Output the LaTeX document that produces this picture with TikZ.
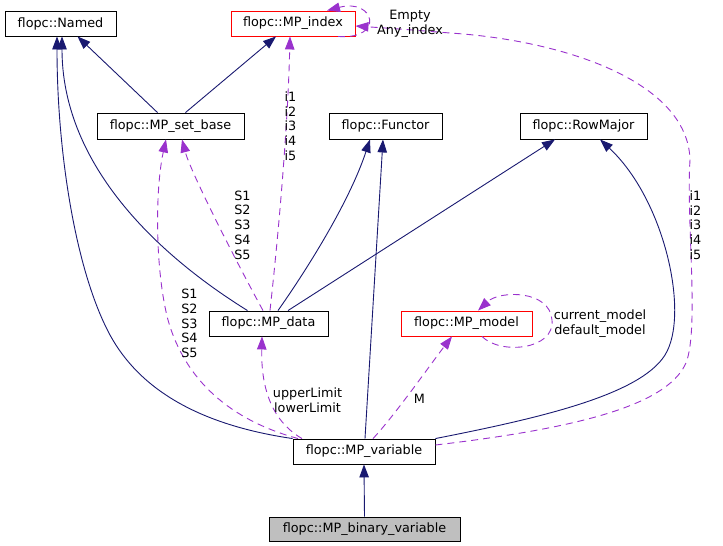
\documentclass[tikz,border=0pt]{standalone}
\usepackage{fontspec}
\setmainfont{DejaVu Sans}
\usetikzlibrary{arrows.meta}
\definecolor{navyc}{HTML}{191970}
\definecolor{purp}{HTML}{9A32CD}
\definecolor{boxgray}{HTML}{BFBFBF}
\begin{document}
\begin{tikzpicture}[x=1pt,y=-1pt,
  cls/.style={draw=black, line width=0.9pt, inner sep=0pt, fill=white,
    font=\fontsize{12.8}{14.7}\selectfont},
  redcls/.style={cls, draw=red},
  lbl/.style={inner sep=0pt, align=center, font=\fontsize{12.8}{14.7}\selectfont},
  inh/.style={draw=navyc, line width=0.9pt, -{Triangle[length=13pt,width=9.5pt]}},
  use/.style={draw=purp, line width=0.9pt, dash pattern=on 7pt off 5pt,
    -{Triangle[length=13pt,width=9.5pt]}}]
\useasboundingbox (0,0) rectangle (723,546);
% class boxes
\node[cls, minimum width=111pt, minimum height=25pt] (named) at (60.5,23.5) {flopc::Named};
\node[redcls, minimum width=124pt, minimum height=25pt] (idx) at (293,23.5) {flopc::MP\_index};
\node[cls, minimum width=147pt, minimum height=26pt] (sb) at (170.5,126) {flopc::MP\_set\_base};
\node[cls, minimum width=113pt, minimum height=26pt] (fun) at (385.5,126) {flopc::Functor};
\node[cls, minimum width=127pt, minimum height=26pt] (row) at (583.5,126) {flopc::RowMajor};
\node[cls, minimum width=119pt, minimum height=25pt] (data) at (268.5,323.5) {flopc::MP\_data};
\node[redcls, minimum width=131pt, minimum height=25pt] (model) at (466.5,323.5) {flopc::MP\_model};
\node[cls, minimum width=142pt, minimum height=25pt] (var) at (364,451.5) {flopc::MP\_variable};
\node[cls, fill=boxgray, minimum width=191pt, minimum height=24pt] (bin) at (364.5,529) {flopc::MP\_binary\_variable};
% inheritance
\draw[inh] ([xshift=-13pt]sb.north) -- ([xshift=17pt]named.south);
\draw[inh] ([xshift=15pt]sb.north) -- ([xshift=-17pt]idx.south);
\draw[inh] ([xshift=-21pt]data.north) .. controls (150,250) and (62,160) .. ([xshift=1.5pt]named.south);
\draw[inh] (var.north west) .. controls (200,425) and (140,390) .. (110,335)
  .. controls (75,270) and (57,150) .. ([xshift=-3.5pt]named.south);
\draw[inh] ([xshift=9.5pt]data.north) .. controls (310,265) and (350,200) .. ([xshift=-15.5pt]fun.south);
\draw[inh] ([xshift=19.5pt]data.north) -- ([xshift=-28.5pt]row.south);
\draw[inh] ([xshift=1pt]var.north) -- ([xshift=-2.5pt]fun.south);
\draw[inh] (var.north east) .. controls (540,418) and (640,395) .. (665,355)
  .. controls (690,315) and (665,200) .. ([xshift=16.5pt]row.south);
\draw[inh] (bin.north) -- (var.south);
% usage
\draw[use] ([xshift=-5.5pt]data.north) .. controls (230,250) and (190,170) .. ([xshift=11.5pt]sb.south);
\draw[use] ([xshift=-66pt]var.north) .. controls (230,420) and (185,380) .. (168,320)
  .. controls (155,270) and (155,190) .. ([xshift=-4.5pt]sb.south);
\draw[use] ([xshift=1.5pt]data.north) .. controls (280,220) and (288,120) .. ([xshift=-3pt]idx.south);
\draw[use] ([yshift=6.5pt]var.east) .. controls (580,428) and (665,405) .. (685,365)
  .. controls (700,335) and (686,220) .. (690,160)
  .. controls (688,80) and (560,40) .. (450,33)
  .. controls (400,29) .. ([yshift=-2.5pt]idx.east);
\draw[use] ([xshift=45pt]idx.south) .. controls (385,40) and (375,-2) .. ([xshift=34pt]idx.north);
\draw[use] ([xshift=-62pt]var.north) .. controls (270,420) and (261,385) .. ([xshift=-6.5pt]data.south);
\draw[use] ([xshift=9pt]var.north) .. controls (395,415) and (430,365) .. ([xshift=-14.5pt]model.south);
\draw[use] ([xshift=15.5pt]model.south) .. controls (500,355) and (555,350) .. (552,320)
  .. controls (550,290) and (500,290) .. ([xshift=11.5pt]model.north);
% labels
\node[lbl] (lidx) at (410,24) {Empty\\Any\_index};
\node[lbl] (li1) at (290.5,126) {i1\\i2\\i3\\i4\\i5};
\node[lbl] (li2) at (695.5,225) {i1\\i2\\i3\\i4\\i5};
\node[lbl] (ls1) at (242.5,225) {S1\\S2\\S3\\S4\\S5};
\node[lbl] (ls2) at (189.5,323.5) {S1\\S2\\S3\\S4\\S5};
\node[lbl] (lul) at (307.5,400.5) {upperLimit\\lowerLimit};
\node[lbl] (lm) at (419.5,399) {M};
\node[lbl] (lmod) at (600,323.5) {current\_model\\default\_model};
\end{tikzpicture}
\end{document}
